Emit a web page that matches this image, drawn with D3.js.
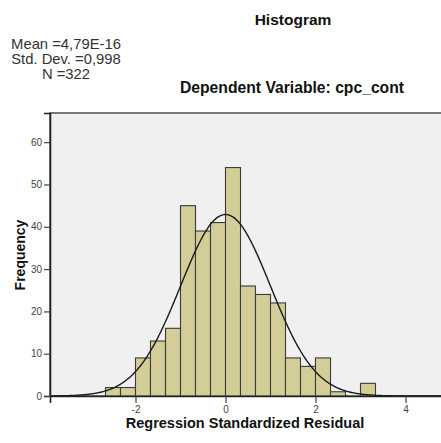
<!DOCTYPE html>
<html>
<head>
<meta charset="utf-8">
<script src="https://cdn.jsdelivr.net/npm/d3@7"></script>
<style>
  html, body { margin: 0; padding: 0; background: #ffffff; }
  svg { display: block; font-family: "Liberation Sans", Arial, sans-serif; }
</style>
</head>
<body>
<svg id="chart" width="441" height="443"></svg>
<script>
// Histogram bins of regression standardized residuals (lower edge of each bin)
const binLows = [-2.667, -2.333, -2.0, -1.667, -1.333, -1.0, -0.667, -0.333, 0.0,
                 0.333, 0.667, 1.0, 1.333, 1.667, 2.0, 2.333, 2.667, 3.0];
const binCounts = [2, 2, 9, 13, 16, 45, 39, 41, 54, 26, 24, 22, 9, 7, 9, 1, 0, 3];
const binWidth = 1 / 3;

// Summary statistics shown in the header
const statMean = 4.79e-16;
const statSD = 0.998;
const statN = 322;
const statLines = ["Mean =4,79E-16", "Std. Dev. =0,998", "N =322"];

const xTicks = [-2, 0, 2, 4];
const yTicks = [0, 10, 20, 30, 40, 50, 60];

const svg = d3.select("#chart");

const plotL = 50, plotR = 446, plotT = 113, plotB = 396;
const x = d3.scaleLinear().domain([-3.9, 4.9]).range([plotL, plotR]);
const y = d3.scaleLinear().domain([0, 66.9]).range([plotB, plotT]);

// plot background
svg.append("rect")
  .attr("x", plotL).attr("y", plotT)
  .attr("width", plotR - plotL).attr("height", plotB - plotT)
  .attr("fill", "#f0f0f0")
  .attr("stroke", "#5a5a5a")
  .attr("stroke-width", 1.6);

// bars
const bins = binLows.map((lo, i) => ({ lo, hi: lo + binWidth, n: binCounts[i] }));
svg.append("g")
  .selectAll("rect")
  .data(bins.filter(d => d.n > 0))
  .join("rect")
  .attr("x", d => x(d.lo))
  .attr("y", d => y(d.n))
  .attr("width", d => x(d.hi) - x(d.lo))
  .attr("height", d => y(0) - y(d.n))
  .attr("fill", "#d3ce98")
  .attr("stroke", "#3a3a3a")
  .attr("stroke-width", 1.1);

// fitted normal curve scaled to counts
const countScale = statN * binWidth;
const pdf = v => Math.exp(-0.5 * ((v - statMean) / statSD) ** 2) / (statSD * Math.sqrt(2 * Math.PI));
const curvePts = d3.range(-3.9, 4.9001, 0.02).map(v => [v, countScale * pdf(v)]);
svg.append("path")
  .datum(curvePts)
  .attr("d", d3.line().x(d => x(d[0])).y(d => y(d[1])).curve(d3.curveBasis))
  .attr("fill", "none")
  .attr("stroke", "#1a1a1a")
  .attr("stroke-width", 1.4);

// axes
const xAxis = d3.axisBottom(x).tickValues(xTicks).tickSize(7).tickPadding(3)
  .tickFormat(d => d < 0 ? "-" + Math.abs(d) : String(d));
const gx = svg.append("g").attr("transform", `translate(0,${plotB})`).call(xAxis);
gx.select(".domain").attr("stroke", "#222").attr("stroke-width", 1.6);
gx.selectAll(".tick line").attr("stroke", "#444").attr("stroke-width", 1.2);
gx.selectAll(".tick text").attr("fill", "#444").attr("font-size", 10)
  .attr("font-family", "Liberation Sans, Arial, sans-serif");

const yAxis = d3.axisLeft(y).tickValues(yTicks).tickSize(6).tickPadding(2);
const gy = svg.append("g").attr("transform", `translate(${plotL},0)`).call(yAxis);
gy.select(".domain").attr("stroke", "#222").attr("stroke-width", 1.6);
gy.selectAll(".tick line").attr("stroke", "#444").attr("stroke-width", 1.2);
gy.selectAll(".tick text").attr("fill", "#444").attr("font-size", 10)
  .attr("font-family", "Liberation Sans, Arial, sans-serif");

// titles
svg.append("text")
  .attr("x", 293).attr("y", 25)
  .attr("text-anchor", "middle")
  .attr("font-weight", "bold").attr("font-size", 15.5).attr("fill", "#111")
  .text("Histogram");

svg.append("text")
  .attr("x", 292).attr("y", 93)
  .attr("text-anchor", "middle")
  .attr("font-weight", "bold").attr("font-size", 15.7).attr("fill", "#111")
  .text("Dependent Variable: cpc_cont");

svg.append("g")
  .selectAll("text")
  .data(statLines)
  .join("text")
  .attr("x", 66)
  .attr("y", (d, i) => 49 + i * 15)
  .attr("text-anchor", "middle")
  .attr("font-size", 14.8).attr("fill", "#333")
  .text(d => d);

svg.append("text")
  .attr("transform", "translate(25,255) rotate(-90)")
  .attr("text-anchor", "middle")
  .attr("font-weight", "bold").attr("font-size", 14).attr("fill", "#111")
  .text("Frequency");

svg.append("text")
  .attr("x", 245).attr("y", 428)
  .attr("text-anchor", "middle")
  .attr("font-weight", "bold").attr("font-size", 14.5).attr("fill", "#111")
  .text("Regression Standardized Residual");
</script>
</body>
</html>
